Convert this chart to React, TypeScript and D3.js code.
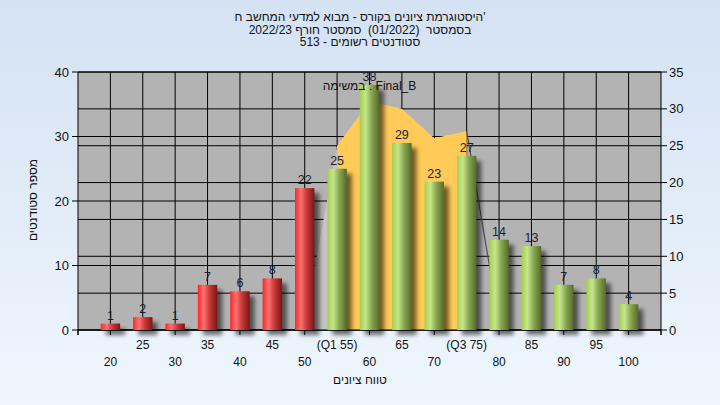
import React from 'react';
import * as d3 from 'd3';

// נתוני ההיסטוגרמה
const categories = ['20', '25', '30', '35', '40', '45', '50', '55', '60', '65', '70', '75', '80', '85', '90', '95', '100'];
const tickLabels = ['20', '25', '30', '35', '40', '45', '50', '(Q1 55)', '60', '65', '70', '(Q3 75)', '80', '85', '90', '95', '100'];
const counts = [1, 2, 1, 7, 6, 8, 22, 25, 38, 29, 23, 27, 14, 13, 7, 8, 4];
const passFrom = 55;

// סדרת השטח (ציר ימני)
const bandCategories = ['50', '55', '60', '65', '70', '75', '80'];
const bandValues = [1, 25, 31, 30, 26, 27, 1];
const q1 = '55';
const q3 = '75';

const leftTicks = [0, 10, 20, 30, 40];
const rightTicks = [0, 5, 10, 15, 20, 25, 30, 35];

const titleLines = [
  "היסטוגרמת ציונים בקורס - מבוא למדעי המחשב ח'",
  'בסמסטר  (01/2022)  סמסטר חורף 2022/23',
  'סטודנטים רשומים - 513',
];
const seriesLabel = 'במשימה : Final_B';
const yTitle = 'מספר סטודנטים';
const xTitle = 'טווח ציונים';

const font = '"Liberation Sans", Arial, sans-serif';

export default function App() {
  const W = 720;
  const H = 405;
  const plot = { left: 78, right: 661, top: 72, bottom: 330 };

  const x = d3.scalePoint<string>().domain(categories).range([plot.left, plot.right]).padding(1);
  const yL = d3.scaleLinear().domain([0, 40]).range([plot.bottom, plot.top]);
  const yR = d3.scaleLinear().domain([0, 35]).range([plot.bottom, plot.top]);
  const bw = x.step() * 0.6;

  const band = bandCategories.map((c, i) => ({ c, v: bandValues[i] }));
  const iq1 = bandCategories.indexOf(q1);
  const iq3 = bandCategories.indexOf(q3);

  const area = d3.area<{ c: string; v: number }>()
    .x(d => x(d.c)!)
    .y0(yR(0))
    .y1(d => yR(d.v));
  const line = d3.line<{ c: string; v: number }>()
    .x(d => x(d.c)!)
    .y(d => yR(d.v));

  const yellowPath = area(band.slice(iq1, iq3 + 1)) || '';
  const wedgePath = area(band.slice(0, iq1 + 1)) || '';
  const tailPath = line(band.slice(iq3)) || '';

  const xTicks = [plot.left, ...categories.filter((_, i) => i % 2 === 0).map(c => x(c)!), plot.right];

  return (
    <div style={{ position: 'absolute', left: 0, top: 0 }}>
      <svg width={W} height={H} style={{ display: 'block', fontFamily: font }}>
        <defs>
          <linearGradient id="bg" x1="0" y1="0" x2="0" y2="1">
            <stop offset="0" stopColor="#d4e2f4" />
            <stop offset="1" stopColor="#eff6fd" />
          </linearGradient>
          <linearGradient id="red" x1="0" y1="0" x2="1" y2="0">
            <stop offset="0" stopColor="#ff2424" />
            <stop offset="0.3" stopColor="#ff7272" />
            <stop offset="0.6" stopColor="#c83a3a" />
            <stop offset="1" stopColor="#7c1414" />
          </linearGradient>
          <linearGradient id="green" x1="0" y1="0" x2="1" y2="0">
            <stop offset="0" stopColor="#a6cf4c" />
            <stop offset="0.3" stopColor="#c6e68c" />
            <stop offset="0.6" stopColor="#8aa852" />
            <stop offset="1" stopColor="#556b2a" />
          </linearGradient>
          <filter id="shadow" x="-50%" y="-50%" width="200%" height="200%">
            <feGaussianBlur stdDeviation="2" />
          </filter>
        </defs>

        <rect width={W} height={H} fill="url(#bg)" />

        {/* כותרת */}
        {titleLines.map((t, i) => (
          <text key={i} x={360} y={21 + i * 12.5} textAnchor="middle" fontSize={12} fill="#111"
            style={{ whiteSpace: 'pre' }}>
            {t}
          </text>
        ))}

        {/* אזור הגרף */}
        <rect x={plot.left} y={plot.top} width={plot.right - plot.left} height={plot.bottom - plot.top} fill="#b3b3b3" />

        {/* קווי רשת */}
        {leftTicks.map(t => (
          <line key={'gl' + t} x1={plot.left} x2={plot.right} y1={yL(t)} y2={yL(t)} stroke="#000" />
        ))}
        {rightTicks.map(t => (
          <line key={'gr' + t} x1={plot.left} x2={plot.right} y1={yR(t)} y2={yR(t)} stroke="#000" />
        ))}
        {categories.map(c => (
          <line key={'gv' + c} x1={x(c)} x2={x(c)} y1={plot.top} y2={plot.bottom} stroke="#000" />
        ))}

        {/* סדרת שטח */}
        <path d={wedgePath} fill="#c5c5c5" />
        <path d={yellowPath} fill="#ffca58" />
        <path d={tailPath} fill="none" stroke="#505050" strokeWidth={1.2} />

        {/* צירים */}
        <line x1={plot.left} x2={plot.left} y1={plot.top} y2={plot.bottom + 5} stroke="#000" />
        <line x1={plot.right} x2={plot.right} y1={plot.top} y2={plot.bottom + 5} stroke="#000" />
        <line x1={plot.left} x2={plot.right} y1={plot.bottom} y2={plot.bottom} stroke="#000" />
        {xTicks.map((t, i) => (
          <line key={'xt' + i} x1={t} x2={t} y1={plot.bottom} y2={plot.bottom + 5} stroke="#000" />
        ))}
        {leftTicks.map(t => (
          <g key={'lt' + t}>
            <line x1={plot.left - 6} x2={plot.left} y1={yL(t)} y2={yL(t)} stroke="#000" />
            <text x={plot.left - 9} y={yL(t)} dy="0.35em" textAnchor="end" fontSize={13} fill="#111">{t}</text>
          </g>
        ))}
        {rightTicks.map(t => (
          <g key={'rt' + t}>
            <line x1={plot.right} x2={plot.right + 6} y1={yR(t)} y2={yR(t)} stroke="#000" />
            <text x={plot.right + 8} y={yR(t)} dy="0.35em" textAnchor="start" fontSize={13} fill="#111">{t}</text>
          </g>
        ))}

        {/* עמודות */}
        {categories.map((c, i) => {
          const cx = x(c)!;
          const top = yL(counts[i]);
          return (
            <rect key={'s' + c} x={cx - bw / 2 + 5} y={top + 5} width={bw} height={plot.bottom - top}
              fill="#000" opacity={0.55} filter="url(#shadow)" />
          );
        })}
        {categories.map((c, i) => {
          const cx = x(c)!;
          const top = yL(counts[i]);
          return (
            <rect key={'b' + c} x={cx - bw / 2} y={top} width={bw} height={plot.bottom - top}
              fill={+c >= passFrom ? 'url(#green)' : 'url(#red)'} />
          );
        })}
        {categories.map((c, i) => (
          <text key={'v' + c} x={x(c)} y={yL(counts[i]) - 4} textAnchor="middle" fontSize={12.5} fill="#1a1f33">
            {counts[i]}
          </text>
        ))}

        <text x={(plot.left + plot.right) / 2} y={90} textAnchor="middle" fontSize={12} fill="#111">{seriesLabel}</text>

        {/* תוויות קטגוריה */}
        {categories.map((c, i) => (
          <text key={'xl' + c} x={x(c)} y={i % 2 === 0 ? 366 : 349} textAnchor="middle" fontSize={12} fill="#111">
            {tickLabels[i]}
          </text>
        ))}

        <text x={360} y={384} textAnchor="middle" fontSize={12} fill="#111">{xTitle}</text>
        <text transform={`translate(37,200) rotate(-90)`} textAnchor="middle" fontSize={12} fill="#111">{yTitle}</text>
      </svg>
    </div>
  );
}
